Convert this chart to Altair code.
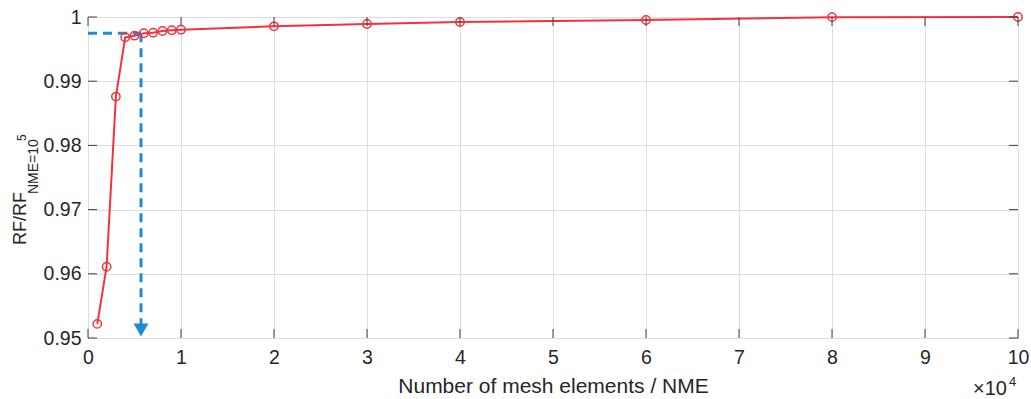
import altair as alt
import pandas as pd

# Data (NME in units of 10^4)
nme_e4 = [0.1, 0.2, 0.3, 0.4, 0.5, 0.6, 0.7, 0.8, 0.9, 1.0, 2, 3, 4, 6, 8, 10]
rf_ratio = [0.9522, 0.9611, 0.9876, 0.99684, 0.99709, 0.99746, 0.99756, 0.99782,
            0.99793, 0.99803, 0.99855, 0.99891, 0.99922, 0.99953, 0.99998, 1.0]

arrow_x = 0.57
arrow_y = 0.99746
x_ticks = [0, 1, 2, 3, 4, 5, 6, 7, 8, 9, 10]
y_ticks = [0.95, 0.96, 0.97, 0.98, 0.99, 1.0]

W, H = 930, 321
FONT = "Liberation Sans"
TXT = "#262626"
RED = "#f2333d"
BLUE = "#1f8ad6"

df = pd.DataFrame({"x": nme_e4, "y": rf_ratio})
xs = alt.Scale(domain=[0, 10], nice=False)
ys = alt.Scale(domain=[0.95, 1.0], nice=False)

base = alt.Chart(df)

xax = alt.Axis(values=x_ticks, grid=True, gridColor="#dedede", tickSize=0, domain=False,
               labelFontSize=19.5, labelFont=FONT, labelColor=TXT, labelPadding=10,
               format="d",
               title="Number of mesh elements / NME", titleFont=FONT, titleFontSize=21,
               titleFontWeight="normal", titleColor=TXT, titleY=54, titleBaseline="alphabetic",
               labelFlush=False)
yax = alt.Axis(values=y_ticks, grid=True, gridColor="#dedede", tickSize=0, domain=False,
               labelFontSize=19.5, labelFont=FONT, labelColor=TXT, labelPadding=7,
               format="~g", title=None, labelFlush=False)

line = base.mark_line(color=RED, strokeWidth=2).encode(
    x=alt.X("x:Q", scale=xs, axis=xax),
    y=alt.Y("y:Q", scale=ys, axis=yax),
)
pts = base.mark_point(shape="circle", size=70, color=RED, strokeWidth=1.5, filled=False,
                      opacity=1).encode(
    x=alt.X("x:Q", scale=xs), y=alt.Y("y:Q", scale=ys)
)

arr_df = pd.DataFrame({"x": [0, arrow_x], "x2": [arrow_x, arrow_x],
                       "y": [arrow_y, arrow_y], "y2": [arrow_y, 0.9518]})
arrow_lines = alt.Chart(arr_df).mark_rule(color=BLUE, strokeWidth=3, strokeDash=[9, 6]).encode(
    x=alt.X("x:Q", scale=xs), x2="x2:Q", y=alt.Y("y:Q", scale=ys), y2="y2:Q"
)
head = alt.Chart(pd.DataFrame({"x": [arrow_x], "y": [0.95]})).mark_point(
    shape="triangle-down", filled=True, size=220, color=BLUE, opacity=1, yOffset=-8
).encode(x=alt.X("x:Q", scale=xs), y=alt.Y("y:Q", scale=ys))

xt = alt.Chart(pd.DataFrame({"t": x_ticks}))
yt = alt.Chart(pd.DataFrame({"t": y_ticks}))
tick_col = "#404040"
ticks_b = xt.mark_rule(color=tick_col).encode(x=alt.X("t:Q", scale=xs), y=alt.value(H), y2=alt.value(H - 9))
ticks_t = xt.mark_rule(color=tick_col).encode(x=alt.X("t:Q", scale=xs), y=alt.value(0), y2=alt.value(9))
ticks_l = yt.mark_rule(color=tick_col).encode(y=alt.Y("t:Q", scale=ys), x=alt.value(0), x2=alt.value(9))
ticks_r = yt.mark_rule(color=tick_col).encode(y=alt.Y("t:Q", scale=ys), x=alt.value(W), x2=alt.value(W - 9))

one = pd.DataFrame({"a": [0]})
def txt(s, x, y, size, angle=0):
    return alt.Chart(one).mark_text(text=s, font=FONT, fontSize=size, color=TXT, align="left",
                                    baseline="alphabetic", angle=angle).encode(
        x=alt.value(x), y=alt.value(y))

yl_main = txt("RF/RF", -62, 228, 18, 270)
yl_sub = txt("NME=10", -50, 177, 14, 270)
yl_sup = txt("5", -62, 124, 12, 270)
x10 = txt("×10", 885, 378, 20)
x10_sup = txt("4", 921, 369, 13)

chart = alt.layer(line, arrow_lines, head, pts, ticks_b, ticks_t, ticks_l, ticks_r,
                  yl_main, yl_sub, yl_sup, x10, x10_sup).properties(
    width=W, height=H,
    autosize=alt.AutoSizeParams(type="none"),
    padding={"left": 88, "top": 17, "right": 13, "bottom": 61},
    background="white",
).configure_view(stroke="#404040", strokeWidth=1)

chart.save("out.html", embed_options={"renderer": "svg", "actions": False})
